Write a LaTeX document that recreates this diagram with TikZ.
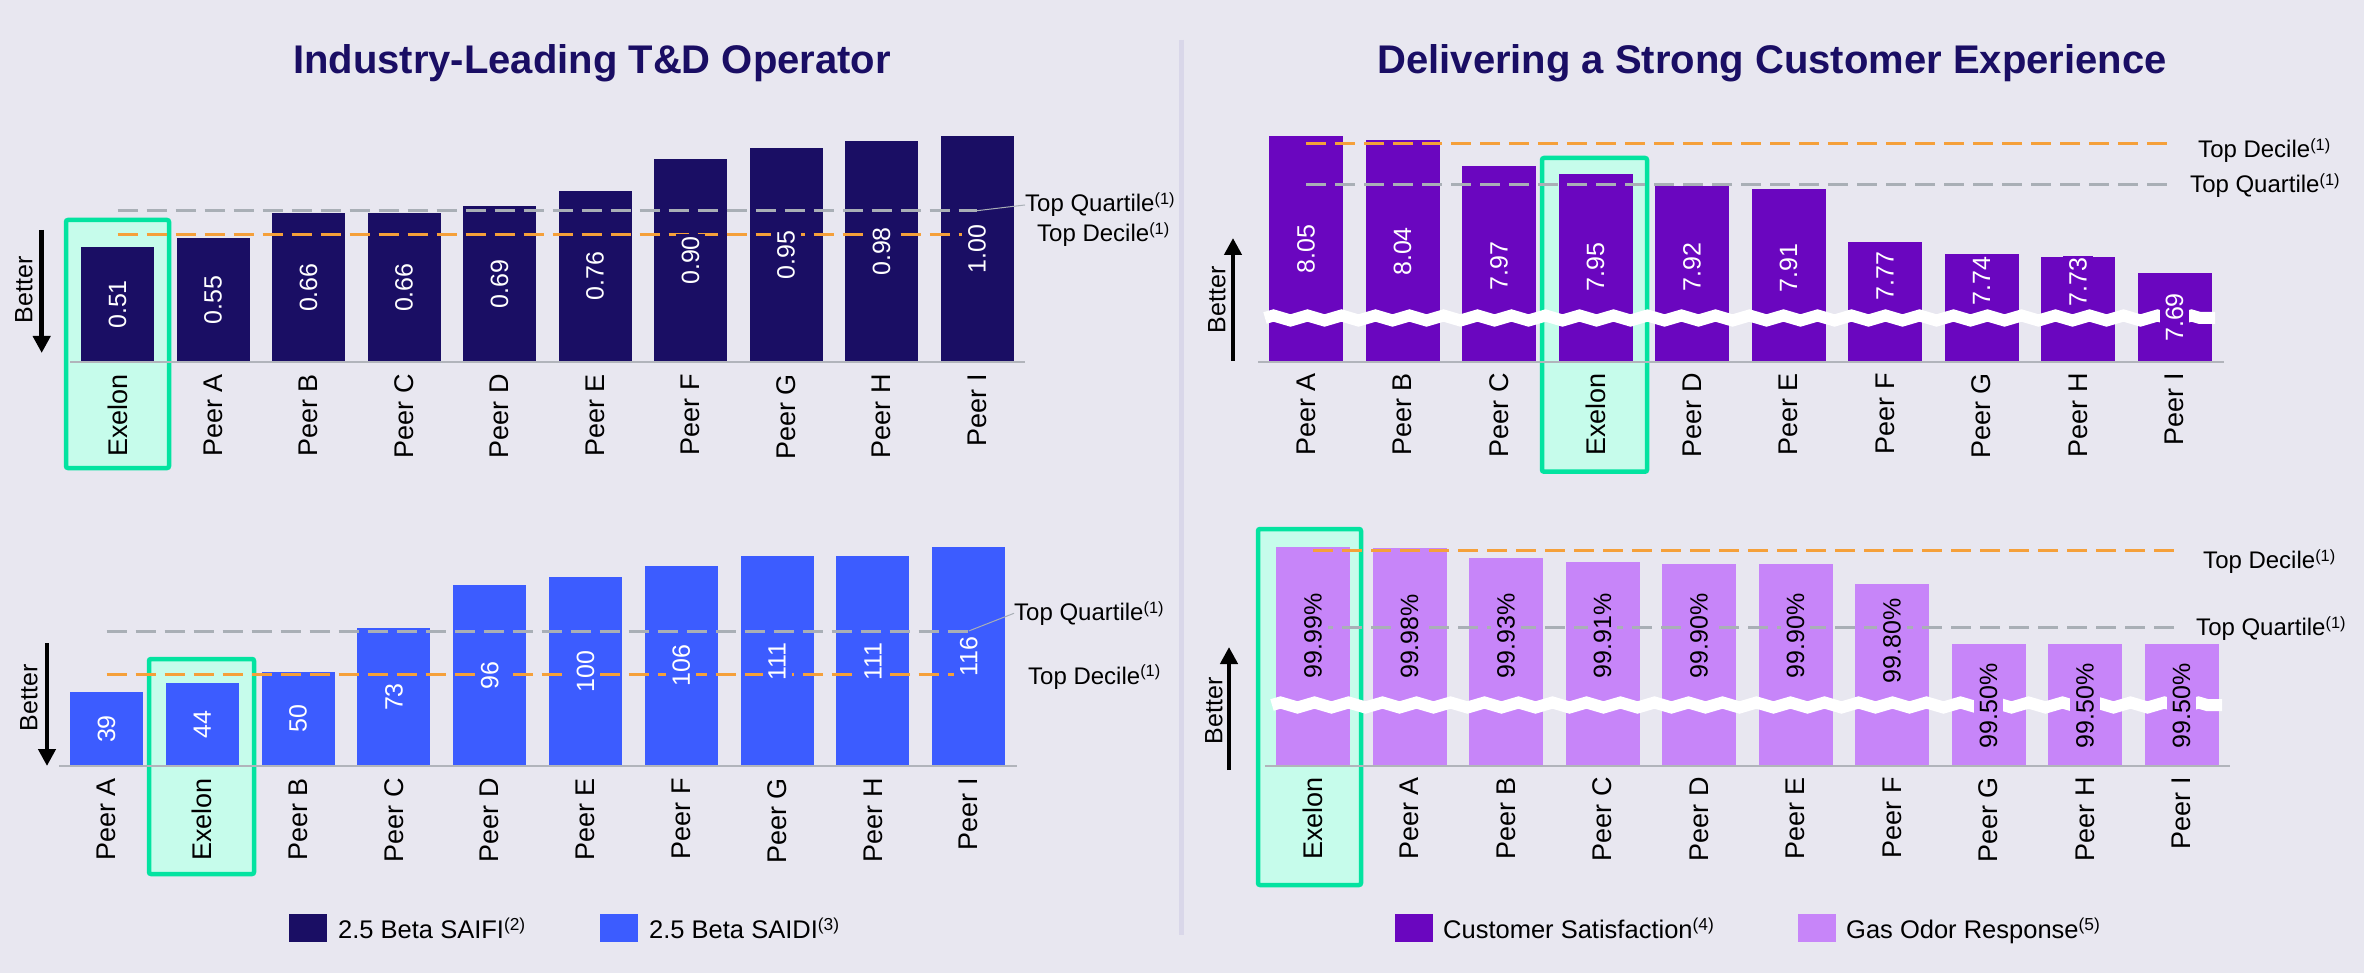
\documentclass[tikz,border=0pt]{standalone}
\usepackage{fontspec}
\setmainfont{Liberation Sans}
\usetikzlibrary{arrows.meta,decorations.pathmorphing}

\definecolor{bgcol}{HTML}{E8E7F0}
\definecolor{sepcol}{HTML}{D9D7E9}
\definecolor{navy}{HTML}{1A0E64}
\definecolor{saidiblue}{HTML}{3C5CFF}
\definecolor{csatpurple}{HTML}{6A06BF}
\definecolor{gaslilac}{HTML}{C785F9}
\definecolor{boxgreen}{HTML}{03E3A0}
\definecolor{boxmint}{HTML}{C6FCEB}
\definecolor{decileorange}{HTML}{F5A03A}
\definecolor{quartilegray}{HTML}{A9AFB6}
\definecolor{axisgray}{HTML}{B1B4BB}

\newcommand{\supnote}[1]{\raisebox{.3em}{\scalebox{.68}{(#1)}}}

\tikzset{
  charttitle/.style={font=\fontsize{40}{48}\selectfont\bfseries, text=navy, anchor=base},
  catlabel/.style={font=\fontsize{27}{32}\selectfont, rotate=90, anchor=east, inner sep=0pt},
  vallabel/.style={font=\fontsize{25}{30}\selectfont, rotate=90, inner xsep=2pt, inner ysep=6pt, text=white},
  exelonbox/.style={draw=boxgreen, fill=boxmint, line width=4.5pt, rounded corners=2pt},
  axisline/.style={draw=axisgray, line width=2.5pt},
  quartileline/.style={draw=quartilegray, line width=3pt, dash pattern=on 20pt off 9pt},
  decileline/.style={draw=decileorange, line width=3pt, dash pattern=on 20pt off 9pt},
  targetlabel/.style={font=\fontsize{24}{29}\selectfont, anchor=base west, inner sep=0pt},
  leader/.style={draw=quartilegray, line width=1pt},
  breakband/.style={draw=white, line width=12pt, decorate,
    decoration={zigzag, segment length=34pt, amplitude=2.5pt}},
  betterarrow/.style={line width=4.5pt, -{Triangle[width=17pt,length=17pt]}},
  betterlabel/.style={font=\fontsize{25}{30}\selectfont, rotate=90},
  legendkey/.style={minimum width=38pt, minimum height=28pt, inner sep=0pt},
  legendlabel/.style={font=\fontsize{25.5}{30}\selectfont, anchor=base west, inner sep=0pt},
}

\begin{document}
\begin{tikzpicture}[x=1pt,y=-1pt]
    % canvas
    \useasboundingbox (0,0) rectangle (2364,973);
    \fill[bgcol] (0,0) rectangle (2364,973);
    \draw[sepcol, line width=5pt] (1181,40) -- (1181,935);

    % titles
    \node[charttitle] (title-td) at (592,74) {Industry-Leading T\&D Operator};
    \node[charttitle] (title-cx) at (1772,74) {Delivering a Strong Customer Experience};

    % data: index/category/value/bar top(/label y)
    \def\saifi{0/Exelon/0.51/247, 1/Peer A/0.55/238, 2/Peer B/0.66/213.2, 3/Peer C/0.66/213.2,
      4/Peer D/0.69/206.4, 5/Peer E/0.76/190.6, 6/Peer F/0.90/159, 7/Peer G/0.95/147.8,
      8/Peer H/0.98/141, 9/Peer I/1.00/136.5}
    \def\saidi{0/Peer A/39/692, 1/Exelon/44/683, 2/Peer B/50/671.5, 3/Peer C/73/628,
      4/Peer D/96/584.6, 5/Peer E/100/577, 6/Peer F/106/565.7, 7/Peer G/111/556.3,
      8/Peer H/111/556.3, 9/Peer I/116/546.8}
    \def\csat{0/Peer A/8.05/136/249, 1/Peer B/8.04/140/251.5, 2/Peer C/7.97/166/266,
      3/Exelon/7.95/174.5/267, 4/Peer D/7.92/185.7/267, 5/Peer E/7.91/189.5/268,
      6/Peer F/7.77/242.3/276, 7/Peer G/7.74/253.7/281, 8/Peer H/7.73/257/282,
      9/Peer I/7.69/272.7/317.5}
    \def\gasodor{0/Exelon/99.99\%/546.7/636, 1/Peer A/99.98\%/548/636.5, 2/Peer B/99.93\%/558/636,
      3/Peer C/99.91\%/562/636, 4/Peer D/99.90\%/564.3/636, 5/Peer E/99.90\%/564.3/636,
      6/Peer F/99.80\%/584/641, 7/Peer G/99.50\%/644/705.7, 8/Peer H/99.50\%/644/705.7,
      9/Peer I/99.50\%/644/705.7}

    % ---- SAIFI (top left)
    \draw[exelonbox] (66,220) rectangle (169,468);
    \foreach \i/\lbl/\val/\ytop in \saifi {
        \fill[navy] ({117.5+95.5*\i-36.5},\ytop) rectangle ({117.5+95.5*\i+36.5},362);
        \node[catlabel] (saifi-c\i) at ({117.5+95.5*\i},374) {\lbl};
    }
    \draw[axisline] (70,362) -- (1025,362);
    \coordinate (saifi-q0) at (117.5,210.7);
    \coordinate (saifi-q1) at (977,210.7);
    \coordinate (saifi-d0) at (117.5,234.7);
    \coordinate (saifi-d1) at (977,234.7);
    \draw[quartileline] (saifi-q0) -- (saifi-q1);
    \draw[decileline] (saifi-d0) -- (saifi-d1);
    \node[targetlabel] (saifi-q) at (1025,212) {Top Quartile\supnote{1}};
    \node[targetlabel] (saifi-d) at (1037,242) {Top Decile\supnote{1}};
    \draw[leader] (saifi-q1) -- (saifi-q.west);
    \foreach \i/\lbl/\val/\ytop in \saifi
        \node[vallabel, fill=navy] (saifi-v\i) at ({117.5+95.5*\i},{(\ytop+362)/2}) {\val};
    \coordinate (saifi-b0) at (41.7,230);
    \coordinate (saifi-b1) at (41.7,353);
    \draw[betterarrow] (saifi-b0) -- (saifi-b1);
    \node[betterlabel] (saifi-b) at (24,290) {Better};

    % ---- SAIDI (bottom left)
    \draw[exelonbox] (149,659) rectangle (254,874);
    \foreach \i/\lbl/\val/\ytop in \saidi {
        \fill[saidiblue] ({106.5+95.8*\i-36.5},\ytop) rectangle ({106.5+95.8*\i+36.5},766);
        \node[catlabel] (saidi-c\i) at ({106.5+95.8*\i},778) {\lbl};
    }
    \draw[axisline] (59,766) -- (1017,766);
    \coordinate (saidi-q0) at (106.5,631);
    \coordinate (saidi-q1) at (968.7,631);
    \coordinate (saidi-d0) at (106.5,674.3);
    \coordinate (saidi-d1) at (968.7,674.3);
    \draw[quartileline] (saidi-q0) -- (saidi-q1);
    \draw[decileline] (saidi-d0) -- (saidi-d1);
    \node[targetlabel] (saidi-q) at (1014,620.3) {Top Quartile\supnote{1}};
    \node[targetlabel] (saidi-d) at (1028,684) {Top Decile\supnote{1}};
    \draw[leader] (saidi-q1) -- (saidi-q.west);
    \foreach \i/\lbl/\val/\ytop in \saidi
        \node[vallabel, fill=saidiblue] (saidi-v\i) at ({106.5+95.8*\i},{(\ytop+766)/2}) {\val};
    \coordinate (saidi-b0) at (47,643);
    \coordinate (saidi-b1) at (47,766);
    \draw[betterarrow] (saidi-b0) -- (saidi-b1);
    \node[betterlabel] (saidi-b) at (29,698) {Better};

    % ---- customer satisfaction (top right)
    \draw[exelonbox] (1542,158) rectangle (1647,471.7);
    \foreach \i/\lbl/\val/\ytop/\ly in \csat {
        \fill[csatpurple] ({1306+96.5*\i-37},\ytop) rectangle ({1306+96.5*\i+37},362);
        \node[catlabel] (csat-c\i) at ({1306+96.5*\i},373) {\lbl};
    }
    \draw[axisline] (1258,362) -- (2224,362);
    \coordinate (csat-d0) at (1306,143.3);
    \coordinate (csat-d1) at (2174.5,143.3);
    \coordinate (csat-q0) at (1306,185);
    \coordinate (csat-q1) at (2174.5,185);
    \draw[decileline] (csat-d0) -- (csat-d1);
    \draw[quartileline] (csat-q0) -- (csat-q1);
    \node[targetlabel] (csat-d) at (2198,157.5) {Top Decile\supnote{1}};
    \node[targetlabel] (csat-q) at (2190,193) {Top Quartile\supnote{1}};
    \draw[breakband] (1265,318) -- (2215,318);
    \foreach \i/\lbl/\val/\ytop/\ly in \csat
        \node[vallabel, fill=csatpurple] (csat-v\i) at ({1306+96.5*\i},\ly) {\val};
    \coordinate (csat-b0) at (1233,361);
    \coordinate (csat-b1) at (1233,238);
    \draw[betterarrow] (csat-b0) -- (csat-b1);
    \node[betterlabel] (csat-b) at (1217,300) {Better};

    % ---- gas odor response (bottom right)
    \draw[exelonbox] (1258,529) rectangle (1361,885);
    \foreach \i/\lbl/\val/\ytop/\ly in \gasodor {
        \fill[gaslilac] ({1313+96.5*\i-37},\ytop) rectangle ({1313+96.5*\i+37},766);
        \node[catlabel] (gas-c\i) at ({1313+96.5*\i},777) {\lbl};
    }
    \draw[axisline] (1265,766) -- (2230,766);
    \coordinate (gas-d0) at (1313,550);
    \coordinate (gas-d1) at (2181.5,550);
    \coordinate (gas-q0) at (1313,627.3);
    \coordinate (gas-q1) at (2181.5,627.3);
    \draw[decileline] (gas-d0) -- (gas-d1);
    \draw[quartileline] (gas-q0) -- (gas-q1);
    \node[targetlabel] (gas-d) at (2203,568.5) {Top Decile\supnote{1}};
    \node[targetlabel] (gas-q) at (2196,635.5) {Top Quartile\supnote{1}};
    \draw[breakband] (1272,705) -- (2222,705);
    \foreach \i/\lbl/\val/\ytop/\ly in \gasodor
        \node[vallabel, fill=gaslilac, text=black] (gas-v\i) at ({1313+96.5*\i},\ly) {\val};
    \coordinate (gas-b0) at (1229,770);
    \coordinate (gas-b1) at (1229,647);
    \draw[betterarrow] (gas-b0) -- (gas-b1);
    \node[betterlabel] (gas-b) at (1214,711) {Better};

    % legends
    \node[legendkey, fill=navy] (key-saifi) at (308,928) {};
    \node[legendlabel] (leg-saifi) at (338,938) {2.5 Beta SAIFI\supnote{2}};
    \node[legendkey, fill=saidiblue] (key-saidi) at (619,928) {};
    \node[legendlabel] (leg-saidi) at (649,938) {2.5 Beta SAIDI\supnote{3}};
    \node[legendkey, fill=csatpurple] (key-csat) at (1414,928) {};
    \node[legendlabel] (leg-csat) at (1443,938) {Customer Satisfaction\supnote{4}};
    \node[legendkey, fill=gaslilac] (key-gas) at (1817,928) {};
    \node[legendlabel] (leg-gas) at (1846,938) {Gas Odor Response\supnote{5}};
\end{tikzpicture}
\end{document}
